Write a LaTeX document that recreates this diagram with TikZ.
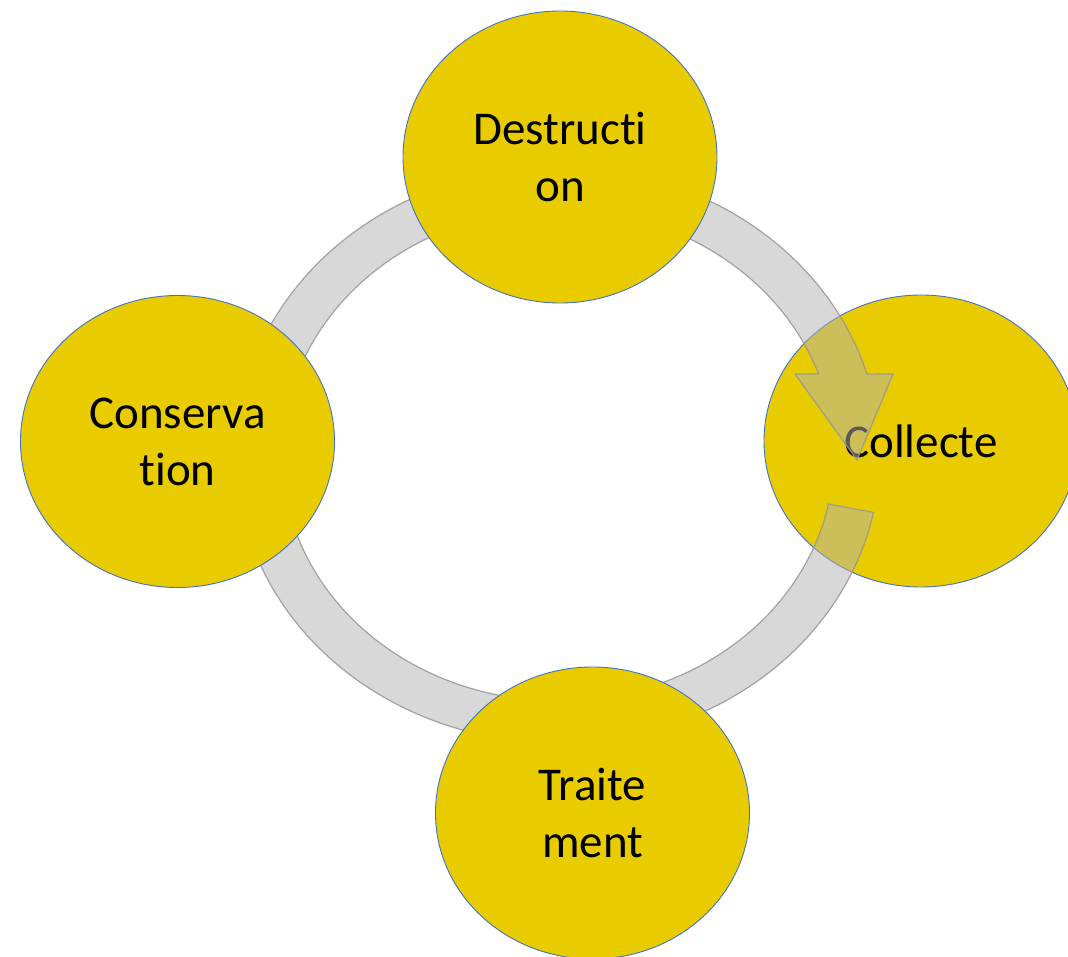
\documentclass[tikz,border=0pt]{standalone}
\usepackage{fontspec}
\setmainfont{Carlito}[Ligatures={NoCommon,NoContextual}]
\usetikzlibrary{shapes.geometric}
\definecolor{bubble}{RGB}{232,204,0}
\definecolor{bubbleedge}{RGB}{68,114,196}
\definecolor{ringfill}{RGB}{178,178,178}
\definecolor{ringedge}{RGB}{150,150,150}
\begin{document}
\begin{tikzpicture}[x=1pt,y=-1pt,
  stage/.style={ellipse, draw=bubbleedge, line width=0.9pt, fill=bubble,
    minimum width=314pt, minimum height=292pt, inner sep=0pt, align=center,
    font=\fontsize{47}{57}\selectfont, text=black},
  ring/.style={fill=ringfill, fill opacity=0.5, draw=ringedge, draw opacity=0.85,
    line width=1.2pt, line join=miter}]
\useasboundingbox (0,0) rectangle (1068,957);
\fill[white] (0,0) rectangle (1068,957);
% Collecte lies under the cycle arrow
\node[stage] (collecte) at (921,441) {Collecte};
% cycle arrow (ring with head pointing into Collecte)
\path[ring]
  plot[domain=11.5:343.7, samples=160] ({558+322*cos(\x)},{455+288*sin(\x)})
  -- (893,374) -- (857,460) -- (795,374)
  -- plot[domain=340.8:11.5, samples=160] ({558+276*cos(\x)},{455+246*sin(\x)})
  -- cycle;
\node[stage] (destruction) at (560,157) {Destructi\\on};
\node[stage] (conservation) at (177.5,441.5) {Conserva\\tion};
\node[stage] (traitement) at (592.5,813) {Traite\\ment};
\end{tikzpicture}
\end{document}
